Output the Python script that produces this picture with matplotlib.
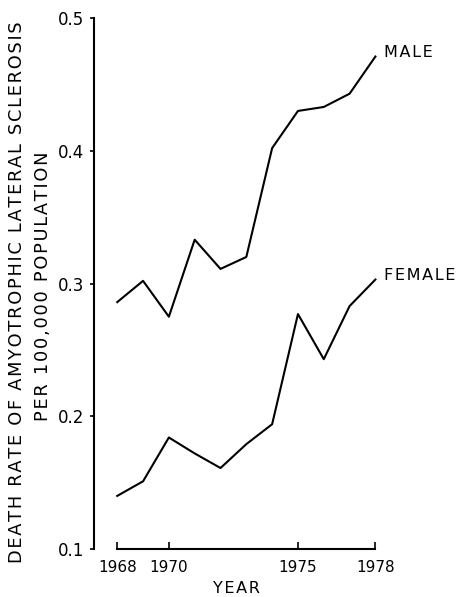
import matplotlib.pyplot as plt

# death rate per 100,000, by year
years = [1968, 1969, 1970, 1971, 1972, 1973, 1974, 1975, 1976, 1977, 1978]
male = [0.286, 0.302, 0.275, 0.333, 0.311, 0.320, 0.402, 0.430, 0.433, 0.443, 0.471]
female = [0.140, 0.151, 0.184, 0.172, 0.161, 0.179, 0.194, 0.277, 0.243, 0.283, 0.303]

x_ticks = [1968, 1970, 1975, 1978]
y_ticks = [0.1, 0.2, 0.3, 0.4, 0.5]


def spaced(s):
    # a bit of extra tracking between letters
    return '\u200a'.join(s)


fig = plt.figure(figsize=(4.57, 5.97), dpi=100)
ax = fig.add_axes([0.2057, 0.0804, 0.6214, 0.8894])

ax.plot(years, male, color='black', lw=1.5)
ax.plot(years, female, color='black', lw=1.5)

ax.text(1978.35, male[-1] + 0.003, spaced('MALE'), fontsize=11.5, va='center', ha='left')
ax.text(1978.35, female[-1] + 0.003, spaced('FEMALE'), fontsize=11.5, va='center', ha='left')

ax.set_xlim(1967.1, 1978.1)
ax.set_ylim(0.1, 0.5)

for s in ['top', 'right']:
    ax.spines[s].set_visible(False)
ax.spines['bottom'].set_bounds(1968, 1978)
ax.spines['left'].set_bounds(0.1, 0.5)
ax.spines['bottom'].set_linewidth(1.5)
ax.spines['left'].set_linewidth(1.5)

ax.set_xticks(x_ticks)
ax.set_xticklabels([str(t) for t in x_ticks])
ax.set_yticks(y_ticks)
ax.set_yticklabels([str(t) for t in y_ticks])
ax.tick_params(axis='x', direction='in', length=5, width=1.2, labelsize=11, pad=8)
ax.tick_params(axis='y', direction='out', length=3, width=1.2, labelsize=12, pad=4)

ax.set_xlabel(spaced('YEAR'), fontsize=11.5, labelpad=4)

fig.text(0.038, 0.51, spaced('DEATH RATE OF AMYOTROPHIC LATERAL SCLEROSIS'),
         rotation=90, ha='center', va='center', fontsize=12.8)
fig.text(0.093, 0.52, spaced('PER 100,000 POPULATION'),
         rotation=90, ha='center', va='center', fontsize=12.8)

fig.savefig('out.png', dpi=100)
